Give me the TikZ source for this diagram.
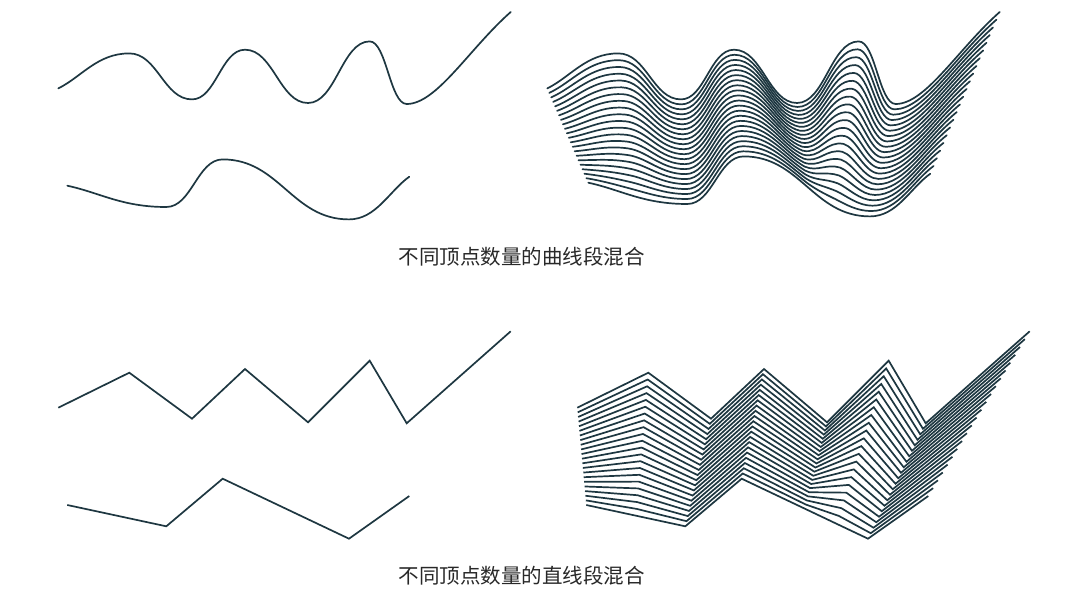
\documentclass[tikz,border=0pt]{standalone}
\usepackage{fontspec}
\newfontfamily\cjk{Noto Sans CJK SC}
\usetikzlibrary{calc}
\definecolor{ink}{RGB}{30,55,65}
\definecolor{captxt}{RGB}{40,40,40}
\begin{document}
\begin{tikzpicture}[x=1pt,y=-1pt,
  wave/.style={draw=ink,line width=1.7pt,line cap=round,line join=round},
  zig/.style={draw=ink,line width=1.7pt,line cap=butt,line join=miter},
  caption/.style={font=\cjk\fontsize{20.5}{24}\selectfont,text=captxt,inner sep=0pt}]
\useasboundingbox (0,0) rectangle (1080,603);

% ---------- top-left: source curves ----------
\draw[wave] (58.3,88.4) .. controls (81.7,76.8) and (97.3,53.4) .. (129.3,53.4)
  .. controls (157.5,53.4) and (163.8,99.4) .. (192,99.4)
  .. controls (215.9,99.4) and (221.1,49.7) .. (245,49.7)
  .. controls (273.4,49.7) and (279.6,103) .. (308,103)
  .. controls (335.8,103) and (341.9,41.4) .. (369.7,41.4)
  .. controls (386.4,41.4) and (390,104) .. (406.7,104)
  .. controls (436.7,104) and (469.1,48.8) .. (510.7,12);
\draw[wave] (67.3,185.7) .. controls (100,192.7) and (121.7,207) .. (166.3,207)
  .. controls (191.7,207) and (197.3,159.4) .. (222.7,159.4)
  .. controls (279.5,159.4) and (292.2,219.4) .. (349,219.4)
  .. controls (376.1,219.4) and (389.4,190.8) .. (409.3,176.7);

% ---------- top-right: curve blend ----------
\foreach \k/\p in {1/{547.3,88.4},2/{570.7,76.8},3/{586.3,53.4},4/{618.3,53.4},
  5/{646.5,53.4},6/{652.8,99.4},7/{681,99.4},8/{704.9,99.4},9/{710.1,49.7},
  10/{734,49.7},11/{762.4,49.7},12/{768.6,103},13/{797,103},14/{824.8,103},
  15/{830.9,41.4},16/{858.7,41.4},17/{875.4,41.4},18/{879,104},19/{895.7,104},
  20/{925.7,104},21/{958.1,48.8},22/{999.7,12}}
  \coordinate (xa\k) at (\p);
\foreach \k/\p in {1/{588.3,182.7},2/{604.65,186.2},3/{618.25,191.53},4/{633.34,195.98},
  5/{648.43,200.43},6/{665,204},7/{687.3,204},8/{712.7,204},9/{718.3,156.4},
  10/{743.7,156.4},11/{772.1,156.4},12/{789.48,171.4},13/{806.85,186.4},
  14/{815.54,193.9},15/{824.23,201.4},16/{834.29,207.03},17/{844.36,212.65},
  18/{855.8,216.4},19/{870,216.4},20/{897.1,216.4},21/{910.4,187.8},22/{930.3,173.7}}
  \coordinate (xb\k) at (\p);
\foreach \i in {0,...,21}{
  \pgfmathsetmacro\t{\i/21}
  \foreach \k in {1,...,22}{\coordinate (m\k) at ($(xa\k)!\t!(xb\k)$);}
  \draw[wave] (m1) .. controls (m2) and (m3) .. (m4)
    .. controls (m5) and (m6) .. (m7)
    .. controls (m8) and (m9) .. (m10)
    .. controls (m11) and (m12) .. (m13)
    .. controls (m14) and (m15) .. (m16)
    .. controls (m17) and (m18) .. (m19)
    .. controls (m20) and (m21) .. (m22);
}

\node[caption] (cap1) at (521.5,257) {不同顶点数量的曲线段混合};

% ---------- bottom-left: source polylines ----------
\draw[zig] (58.3,407.7) -- (129.3,372.7) -- (192,418.7) -- (245,369) -- (308,422.3)
  -- (369.7,360.7) -- (406.7,423.3) -- (510.7,331.3);
\draw[zig] (67.3,505) -- (166.3,526.3) -- (222.7,478.7) -- (349,538.7) -- (409.3,496);

% ---------- bottom-right: polyline blend ----------
\foreach \k/\p in {1/{577.3,407.7},2/{648.3,372.7},3/{711,418.7},4/{764,369},
  5/{827,422.3},6/{888.7,360.7},7/{925.7,423.3},8/{1029.7,331.3}}
  \coordinate (ya\k) at (\p);
\foreach \k/\p in {1/{586.3,505},2/{635.8,515.65},3/{685.3,526.3},4/{741.7,478.7},
  5/{804.85,508.7},6/{836.4,523.7},7/{868,538.7},8/{928.3,496}}
  \coordinate (yb\k) at (\p);
\foreach \i in {0,...,21}{
  \pgfmathsetmacro\t{\i/21}
  \foreach \k in {1,...,8}{\coordinate (n\k) at ($(ya\k)!\t!(yb\k)$);}
  \draw[zig] (n1) -- (n2) -- (n3) -- (n4) -- (n5) -- (n6) -- (n7) -- (n8);
}

\node[caption] (cap2) at (521.5,576) {不同顶点数量的直线段混合};
\end{tikzpicture}
\end{document}
